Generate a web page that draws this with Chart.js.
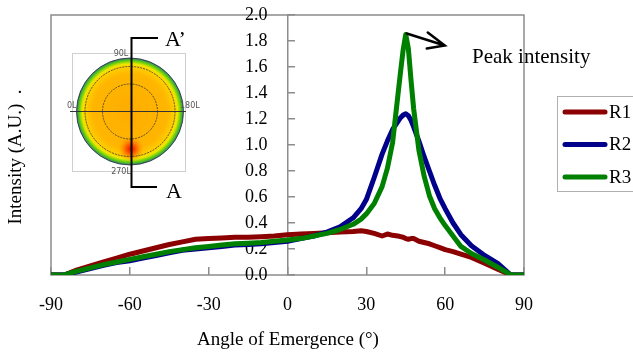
<!DOCTYPE html>
<html>
<head>
<meta charset="utf-8">
<script src="https://cdn.jsdelivr.net/npm/chart.js@4"></script>
<style>
  html, body { margin: 0; padding: 0; background: #fff; }
</style>
</head>
<body>
<canvas id="chart" width="633" height="353"></canvas>
<script>
// angle of emergence (deg)
const angles = [-90, -85, -80, -75, -70, -65, -60, -55, -50, -45, -40, -35, -30, -25, -20, -15, -10, -5, 0, 5, 10, 15, 20, 25,
  28, 30, 33, 36, 38, 40, 42, 43, 44, 45, 46, 47, 48, 50, 52, 54, 56, 58, 60, 63, 66, 70, 75, 80, 85, 90]

// intensity (A.U.)
const r1 = [0, 0, 0.04, 0.07, 0.10, 0.13, 0.16, 0.185, 0.21, 0.235, 0.255, 0.275, 0.28, 0.285, 0.29, 0.29, 0.295, 0.30, 0.31, 0.315, 0.32, 0.325, 0.33, 0.335,
  0.34, 0.335, 0.32, 0.30, 0.315, 0.305, 0.30, 0.295, 0.29, 0.28, 0.275, 0.28, 0.28, 0.26, 0.25, 0.24, 0.225, 0.21, 0.195, 0.18, 0.16, 0.135, 0.09, 0.045, 0, 0]
const r2 = [0, 0, 0.025, 0.05, 0.075, 0.095, 0.11, 0.13, 0.15, 0.17, 0.19, 0.20, 0.21, 0.22, 0.23, 0.235, 0.24, 0.25, 0.26, 0.28, 0.30, 0.33, 0.37, 0.44,
  0.51, 0.58, 0.75, 0.93, 1.03, 1.12, 1.18, 1.21, 1.23, 1.24, 1.225, 1.19, 1.14, 1.03, 0.91, 0.80, 0.69, 0.59, 0.51, 0.40, 0.31, 0.225, 0.15, 0.09, 0, 0]
const r3 = [0, 0, 0.03, 0.055, 0.08, 0.10, 0.12, 0.14, 0.16, 0.18, 0.195, 0.21, 0.22, 0.23, 0.24, 0.245, 0.25, 0.26, 0.27, 0.28, 0.30, 0.32, 0.35, 0.39,
  0.43, 0.47, 0.55, 0.68, 0.82, 1.02, 1.38, 1.56, 1.73, 1.85, 1.74, 1.50, 1.28, 0.96, 0.76, 0.61, 0.51, 0.44, 0.38, 0.30, 0.22, 0.165, 0.115, 0.06, 0, 0]

const seriesNames = ['R1', 'R2', 'R3']
const seriesColors = ['#8b0000', '#00008b', '#008000']
const xTicks = [-90, -60, -30, 0, 30, 60, 90]
const yTicks = [0, 0.2, 0.4, 0.6, 0.8, 1.0, 1.2, 1.4, 1.6, 1.8, 2.0]

const SERIF = '"Liberation Serif", "Times New Roman", serif'
const AXIS_GREY = '#8c8c8c'

function toPoints(values) {
  return angles.map((a, i) => ({ x: a, y: values[i] }))
}

// frame, tick labels, titles, legend, inset picture and the arrow
const decor = {
  id: 'decor',
  beforeDatasetsDraw(chart) {
    const { ctx, chartArea: ca, scales: { x, y } } = chart
    ctx.save()
    ctx.strokeStyle = AXIS_GREY
    ctx.lineWidth = 1.5
    ctx.strokeRect(ca.left, ca.top, ca.right - ca.left, ca.bottom - ca.top)

    // y tick labels sit left of the centre axis, under the lines
    ctx.fillStyle = '#000'
    ctx.font = '18px ' + SERIF
    ctx.textAlign = 'right'
    ctx.textBaseline = 'middle'
    const x0 = x.getPixelForValue(0)
    yTicks.forEach(v => ctx.fillText(v.toFixed(1), x0 - 20, y.getPixelForValue(v)))

    // x tick labels under the frame
    ctx.textAlign = 'center'
    xTicks.forEach(v => ctx.fillText(String(v), x.getPixelForValue(v), ca.bottom + 30))

    drawInset(ctx)
    ctx.restore()
  },
  afterDraw(chart) {
    const { ctx, scales: { x, y } } = chart
    ctx.save()
    ctx.fillStyle = '#000'

    // axis titles
    ctx.font = '19px ' + SERIF
    ctx.textAlign = 'center'
    ctx.textBaseline = 'middle'
    ctx.fillText('Angle of Emergence (°)', 288, 340)
    ctx.save()
    ctx.translate(16, 157)
    ctx.rotate(-Math.PI / 2)
    ctx.fillText('Intensity (A.U.)  .', 0, 0)
    ctx.restore()

    // arrow from the R3 peak
    const px = x.getPixelForValue(45) + 1
    const py = y.getPixelForValue(1.85) - 1
    ctx.strokeStyle = '#000'
    ctx.lineWidth = 2.5
    ctx.lineCap = 'round'
    ctx.beginPath()
    ctx.moveTo(px, py)
    ctx.lineTo(px + 38, py + 12)
    ctx.moveTo(px + 21, py - 1)
    ctx.lineTo(px + 38, py + 12)
    ctx.lineTo(px + 20, py + 15)
    ctx.stroke()

    ctx.font = '21px ' + SERIF
    ctx.textAlign = 'left'
    ctx.textBaseline = 'alphabetic'
    ctx.fillText('Peak intensity', 472, 63)

    // legend box
    ctx.strokeStyle = '#b0b0b0'
    ctx.lineWidth = 1
    ctx.strokeRect(557.5, 96.5, 90, 95)
    ctx.font = '19px ' + SERIF
    ctx.textBaseline = 'middle'
    chart.data.datasets.forEach((ds, i) => {
      const ly = 112 + i * 32.5
      ctx.strokeStyle = ds.borderColor
      ctx.lineWidth = 5
      ctx.beginPath()
      ctx.moveTo(565, ly)
      ctx.lineTo(605, ly)
      ctx.stroke()
      ctx.fillStyle = '#000'
      ctx.fillText(ds.label, 609, ly + 1)
    })
    ctx.restore()
  }
}

function drawInset(ctx) {
  const cx = 130, cy = 111.5, r = 53.5
  ctx.save()
  ctx.strokeStyle = '#cfcfcf'
  ctx.lineWidth = 1
  ctx.strokeRect(72.5, 53.5, 113, 118)

  const g = ctx.createRadialGradient(cx, cy, 0, cx, cy, r)
  g.addColorStop(0, '#ffac00')
  g.addColorStop(0.7, '#ffb600')
  g.addColorStop(0.84, '#ffcf00')
  g.addColorStop(0.89, '#eee600')
  g.addColorStop(0.92, '#a6dc00')
  g.addColorStop(0.96, '#4dc020')
  g.addColorStop(1, '#3a7a70')
  ctx.fillStyle = g
  ctx.beginPath()
  ctx.arc(cx, cy, r, 0, Math.PI * 2)
  ctx.fill()

  const hot = ctx.createRadialGradient(131, 149, 0, 131, 149, 13)
  hot.addColorStop(0, 'rgba(240,10,0,1)')
  hot.addColorStop(0.35, 'rgba(250,60,0,0.8)')
  hot.addColorStop(1, 'rgba(255,150,0,0)')
  ctx.fillStyle = hot
  ctx.beginPath()
  ctx.arc(131, 149, 13, 0, Math.PI * 2)
  ctx.fill()

  ctx.strokeStyle = '#2a2a4a'
  ctx.lineWidth = 0.8
  ctx.beginPath()
  ctx.arc(cx, cy, r, 0, Math.PI * 2)
  ctx.stroke()

  ctx.strokeStyle = '#333'
  ctx.setLineDash([2, 1])
  ctx.beginPath()
  ctx.arc(cx, cy, 45, 0, Math.PI * 2)
  ctx.stroke()
  ctx.beginPath()
  ctx.arc(cx, cy, 27.5, 0, Math.PI * 2)
  ctx.stroke()
  ctx.setLineDash([])

  ctx.lineWidth = 1
  ctx.beginPath()
  ctx.moveTo(70, 111.5)
  ctx.lineTo(186, 111.5)
  ctx.stroke()

  ctx.fillStyle = '#555'
  ctx.font = '8px "DejaVu Sans", sans-serif'
  ctx.textBaseline = 'middle'
  ctx.textAlign = 'left'
  ctx.fillText('0L', 67, 106)
  ctx.fillText('180L', 180, 106)
  ctx.textAlign = 'center'
  ctx.fillText('90L', 121, 54)
  ctx.fillText('270L', 121, 172)

  // section line A - A'
  ctx.strokeStyle = '#000'
  ctx.lineWidth = 2
  ctx.beginPath()
  ctx.moveTo(158, 38)
  ctx.lineTo(131.5, 38)
  ctx.lineTo(131.5, 187)
  ctx.lineTo(157, 187)
  ctx.stroke()

  ctx.fillStyle = '#000'
  ctx.font = '22px ' + SERIF
  ctx.textAlign = 'left'
  ctx.textBaseline = 'alphabetic'
  ctx.fillText('A’', 165, 46)
  ctx.fillText('A', 166, 198)
  ctx.restore()
}

const datasets = [r1, r2, r3].map((vals, i) => ({
  label: seriesNames[i],
  data: toPoints(vals),
  borderColor: seriesColors[i],
  backgroundColor: seriesColors[i],
  borderWidth: 5,
  borderJoinStyle: 'round',
  borderCapStyle: 'round',
  pointRadius: 0,
  tension: 0,
  order: 2 - i
}))

new Chart(document.getElementById('chart'), {
  type: 'line',
  data: { datasets },
  options: {
    responsive: false,
    animation: false,
    layout: { padding: { left: 51, right: 109, top: 15, bottom: 78 } },
    plugins: { legend: { display: false }, tooltip: { enabled: false } },
    scales: {
      x: {
        type: 'linear',
        position: 'bottom',
        min: -90,
        max: 90,
        afterFit: s => { s.height = 0 },
        afterBuildTicks: s => { s.ticks = xTicks.map(v => ({ value: v })) },
        border: { display: false },
        grid: { drawOnChartArea: false, drawTicks: true, tickLength: -8, color: AXIS_GREY, lineWidth: 1.5 },
        ticks: { display: false }
      },
      y: {
        type: 'linear',
        position: { x: 0 },
        min: 0,
        max: 2,
        afterFit: s => { s.width = 0 },
        afterBuildTicks: s => { s.ticks = yTicks.map(v => ({ value: v })) },
        border: { display: true, color: AXIS_GREY, width: 1.5 },
        grid: { drawOnChartArea: false, drawTicks: true, tickLength: -8, color: AXIS_GREY, lineWidth: 1.5 },
        ticks: { display: false }
      }
    }
  },
  plugins: [decor]
})
</script>
</body>
</html>
